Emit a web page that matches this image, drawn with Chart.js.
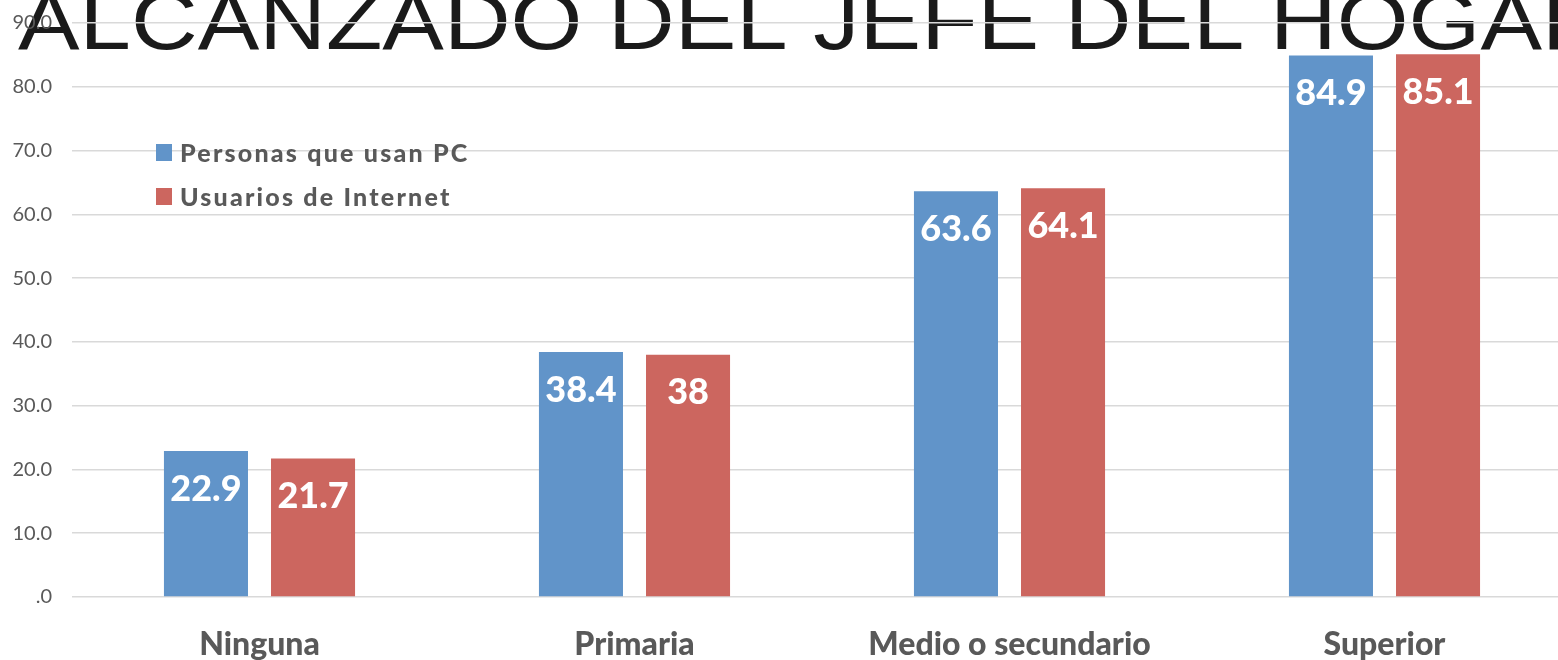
<!DOCTYPE html>
<html>
<head>
<meta charset="utf-8">
<script src="https://cdn.jsdelivr.net/npm/chart.js@4.4.0/dist/chart.umd.min.js"></script>
<style>
  html, body { margin: 0; padding: 0; overflow: hidden; background: #fff; }
  #wrap { width: 1558px; height: 660px; overflow: hidden; }
  #chart { display: block; margin-top: -9px; }
</style>
</head>
<body>
<div id="wrap"><canvas id="chart" width="1572" height="669"></canvas></div>
<script>
// Data
const categories = ['Ninguna', 'Primaria', 'Medio o secundario', 'Superior'];
const seriesNames = ['Personas que usan PC', 'Usuarios de Internet'];
const pcValues = [22.9, 38.4, 63.6, 84.9];
const internetValues = [21.7, 38, 64.1, 85.1];
const yTicks = [0, 10, 20, 30, 40, 50, 60, 70, 80, 90];
const titleText = 'ALCANZADO DEL JEFE DEL HOGAR';

const greyText = '#595959';
const fontName = 'Lato, "Noto Sans", sans-serif';
const shift = 9; // canvas is pulled up by this much

// Big title drawn behind everything, partly cut off at the top
const titlePlugin = {
  id: 'bigTitle',
  beforeDraw(chart) {
    const ctx = chart.ctx;
    ctx.save();
    ctx.font = '82px "Liberation Sans", Arial, sans-serif';
    ctx.fillStyle = '#1a1a1a';
    ctx.textBaseline = 'alphabetic';
    const part = ctx.measureText(titleText.slice(0, -1)).width;
    const sx = 1524 / part; // stretch to the wide geometric face of the original
    ctx.translate(18, 49 + shift);
    ctx.scale(sx, 1);
    ctx.fillText(titleText, 0, 0);
    ctx.restore();
  }
};

// Value labels inside the top of each bar
const valueLabels = {
  id: 'valueLabels',
  afterDatasetsDraw(chart) {
    const ctx = chart.ctx;
    ctx.save();
    ctx.font = '900 36px ' + fontName;
    ctx.fillStyle = '#ffffff';
    ctx.textAlign = 'center';
    ctx.textBaseline = 'middle';
    chart.data.datasets.forEach((ds, i) => {
      chart.getDatasetMeta(i).data.forEach((bar, j) => {
        ctx.fillText(String(ds.data[j]), bar.x, bar.y + 38);
      });
    });
    ctx.restore();
  }
};

// Legend placed inside the plot, upper left
const innerLegend = {
  id: 'innerLegend',
  afterDraw(chart) {
    const ctx = chart.ctx;
    ctx.save();
    ctx.font = '900 25px ' + fontName;
    ctx.letterSpacing = '2.2px';
    ctx.textBaseline = 'middle';
    chart.data.datasets.forEach((ds, i) => {
      const y = 152 + shift + i * 44;
      ctx.fillStyle = ds.backgroundColor;
      ctx.fillRect(156, y - 8, 16, 17);
      ctx.fillStyle = greyText;
      ctx.fillText(ds.label, 180, y + 2);
    });
    ctx.restore();
  }
};

new Chart(document.getElementById('chart'), {
  type: 'bar',
  data: {
    labels: categories,
    datasets: [{
      label: seriesNames[0],
      data: pcValues,
      backgroundColor: '#6194c9',
      categoryPercentage: 0.571,
      barPercentage: 0.785,
    }, {
      label: seriesNames[1],
      data: internetValues,
      backgroundColor: '#cc665f',
      categoryPercentage: 0.571,
      barPercentage: 0.785,
    }],
  },
  options: {
    responsive: false,
    animation: false,
    layout: { padding: { top: 13, right: 0, left: 0, bottom: 0 } },
    plugins: {
      legend: { display: false },
      tooltip: { enabled: false },
    },
    scales: {
      x: {
        grid: { display: false },
        border: { display: false },
        ticks: {
          color: greyText,
          font: { family: fontName, size: 32, weight: '900' },
          padding: 20,
          maxRotation: 0,
        },
        afterFit(scale) { scale.height = 63; },
      },
      y: {
        min: 0,
        max: 90,
        afterBuildTicks(scale) { scale.ticks = yTicks.map(v => ({ value: v })); },
        grid: { color: '#d9d9d9', lineWidth: 1.5, drawTicks: false },
        border: { display: false },
        ticks: {
          color: greyText,
          font: { family: fontName, size: 20 },
          padding: 20,
          callback: v => v === 0 ? '.0' : v.toFixed(1),
        },
        afterFit(scale) { scale.width = 72; },
      },
    },
  },
  plugins: [titlePlugin, valueLabels, innerLegend],
});
</script>
</body>
</html>
